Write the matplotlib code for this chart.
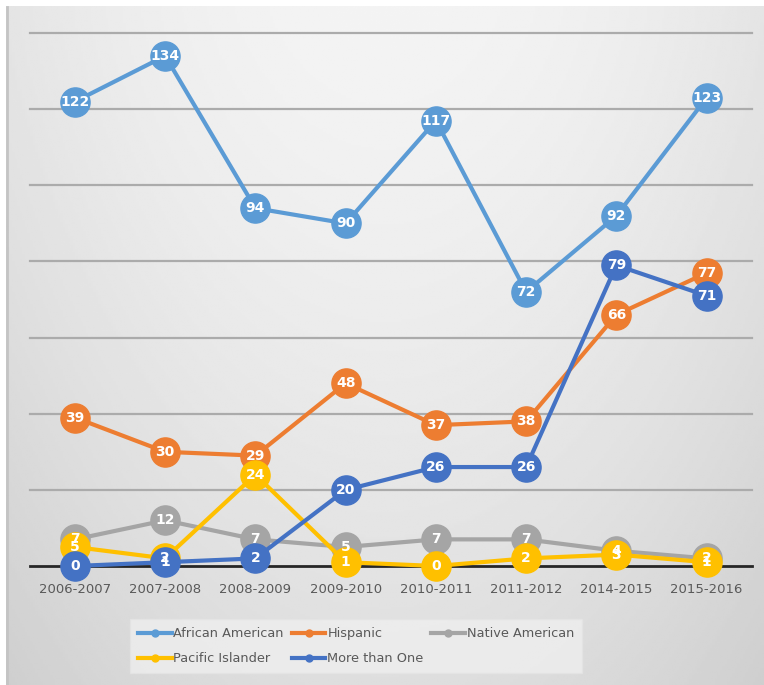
import numpy as np
import matplotlib
matplotlib.use('Agg')
from matplotlib import pyplot as plt
from matplotlib.lines import Line2D

# Data
years = ['2006-2007', '2007-2008', '2008-2009', '2009-2010',
         '2010-2011', '2011-2012', '2014-2015', '2015-2016']
african_american = [122, 134, 94, 90, 117, 72, 92, 123]
hispanic = [39, 30, 29, 48, 37, 38, 66, 77]
native_american = [7, 12, 7, 5, 7, 7, 4, 2]
pacific_islander = [5, 2, 24, 1, 0, 2, 3, 1]
more_than_one = [0, 1, 2, 20, 26, 26, 79, 71]

series = [
    ('African American', african_american, '#5B9BD5'),
    ('Hispanic', hispanic, '#ED7D31'),
    ('Native American', native_american, '#A5A5A5'),
    ('Pacific Islander', pacific_islander, '#FFC000'),
    ('More than One', more_than_one, '#4472C4'),
]

fig = plt.figure(figsize=(7.64, 6.85), dpi=100)
fig.patch.set_facecolor('white')

# background gradient (chart area starts a few px in from top/left)
bg = fig.add_axes([0, 0, 1, 1], zorder=-10)
yy, xx = np.mgrid[0:1:300j, 0:1:300j]   # yy: 0 bottom .. 1 top
grad = 0.955 - 0.085 * (1 - yy) ** 1.4 - 0.06 * (np.abs(xx - 0.5) * 2) ** 2
bg.imshow(grad, cmap='gray', vmin=0, vmax=1, extent=[0.008, 1, 0, 0.99],
          aspect='auto', origin='lower')
bg.plot([0.009, 0.009], [0, 0.99], color='#c4c4c4', lw=2)
bg.set_xlim(0, 1)
bg.set_ylim(0, 1)
bg.axis('off')

ax = fig.add_axes([0.039, 0.1737, 0.945, 0.778])
ax.patch.set_alpha(0)
x = np.arange(len(years))

for name, vals, col in series:
    ax.plot(x, vals, color=col, lw=3, marker='o', markersize=21,
            markerfacecolor=col, markeredgecolor=col, clip_on=False,
            solid_capstyle='round', zorder=3)

for name, vals, col in series:
    for xi, v in zip(x, vals):
        ax.text(xi, v, str(v), ha='center', va='center', color='white',
                fontsize=10, fontweight='bold', zorder=10)

ax.set_xlim(-0.5, 7.5)
ax.set_ylim(0, 140)
ax.set_yticks(np.arange(20, 141, 20))
ax.yaxis.grid(True, color='#ababab', lw=1.6)
for gl in ax.get_ygridlines():
    gl.set_clip_on(False)
ax.set_axisbelow(True)
ax.tick_params(axis='y', left=False, labelleft=False)
ax.tick_params(axis='x', bottom=False, pad=9, labelsize=9.5, labelcolor='#595959')
ax.set_xticks(x)
ax.set_xticklabels(years)
for s in ['top', 'right', 'left']:
    ax.spines[s].set_visible(False)
ax.spines['bottom'].set_color('#262626')
ax.spines['bottom'].set_linewidth(2)

# legend, order arranged so rows read left-to-right
handles = {}
for name, vals, col in series:
    handles[name] = Line2D([], [], color=col, lw=3, marker='o', markersize=5)
order = ['African American', 'Pacific Islander', 'Hispanic', 'More than One', 'Native American']
leg = fig.legend([handles[n] for n in order], order, ncol=3,
                 loc='lower left', bbox_to_anchor=(0.162, 0.008),
                 frameon=True, fontsize=9.3, handlelength=2.6, handletextpad=0.15,
                 columnspacing=0.6, labelspacing=0.95, borderpad=0.6)
leg.get_frame().set_facecolor('#f0f0f0')
leg.get_frame().set_edgecolor('#e4e4e4')
leg.get_frame().set_alpha(0.75)
leg.get_frame().set_boxstyle('square', pad=0)
for t in leg.get_texts():
    t.set_color('#595959')

fig.savefig('out.png', dpi=100)
